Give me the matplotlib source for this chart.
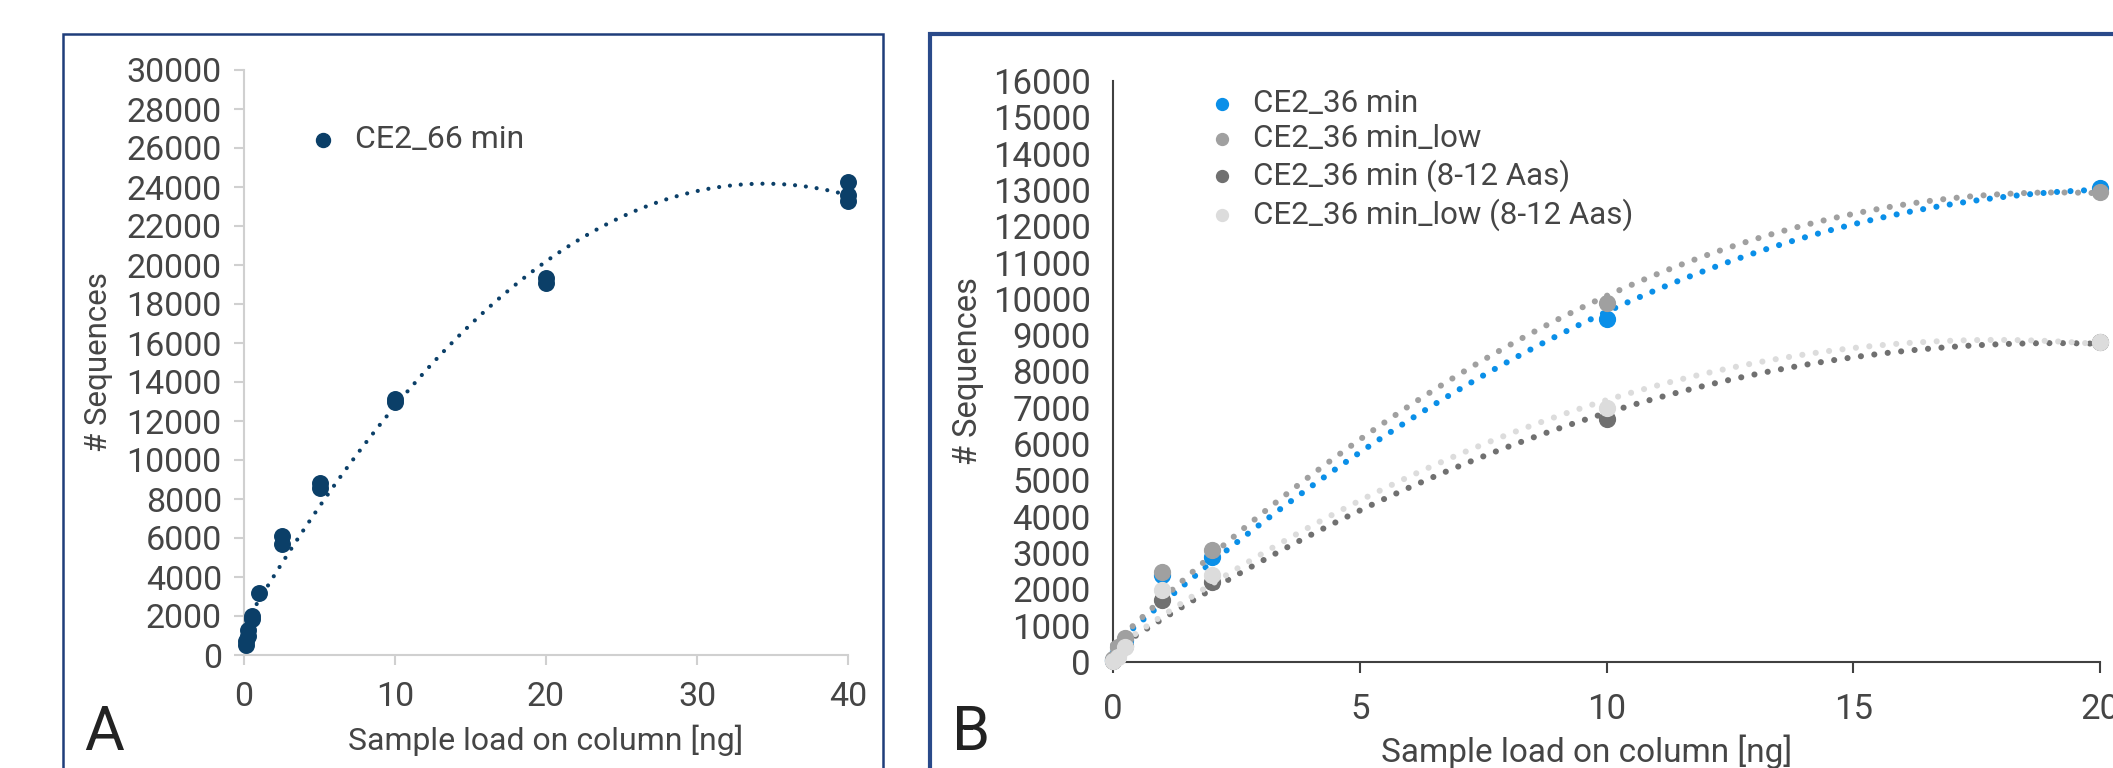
import numpy as np
import matplotlib.pyplot as plt
from matplotlib.patches import Rectangle

plt.rcParams['font.family'] = ['Roboto', 'DejaVu Sans']

# ---- panel A data ----
a_x = [0.1, 0.1, 0.25, 0.25, 0.5, 0.5, 1, 2.5, 2.5, 5, 5, 10, 10, 20, 20, 40, 40, 40]
a_y = [500, 700, 1000, 1300, 1850, 2000, 3200, 5700, 6100, 8550, 8800, 13000, 13150,
       19100, 19350, 23300, 23600, 24250]
a_label = "CE2_66 min"

# ---- panel B data ----
b_x = [0, 0.1, 0.25, 1, 2, 10, 20]
b_labels = ["CE2_36 min", "CE2_36 min_low", "CE2_36 min (8-12 Aas)", "CE2_36 min_low (8-12 Aas)"]
b_blue = [50, 300, 600, 2400, 2900, 9450, 13050]
b_grey = [80, 400, 650, 2480, 3080, 9900, 12950]
b_dark = [30, 200, 450, 1700, 2200, 6700, 8800]
b_light = [20, 150, 400, 1980, 2400, 7000, 8800]
b_colors = ["#0a8fe8", "#a0a0a0", "#707070", "#dcdcdc"]

txt = "#454545"
W, H = 2113, 768
fig = plt.figure(figsize=(W / 100, H / 100), dpi=100)

# panel frames
fig.patches.append(Rectangle((63 / W, -0.1), (883 - 63) / W, 1.1 - 34 / H,
                             transform=fig.transFigure, fill=False, ec="#1f3d7a", lw=1.8))
fig.patches.append(Rectangle((930 / W, -0.1), 1.0, 1.1 - 34 / H,
                             transform=fig.transFigure, fill=False, ec="#2a4a8a", lw=3))

# ---------------- panel A ----------------
axA = fig.add_axes([244 / W, 113 / H, (848 - 244) / W, (655 - 70) / H])
axA.scatter(a_x, a_y, s=125, color="#0b3f68", zorder=3, clip_on=False, label=a_label)
ca = np.polyfit(a_x, a_y, 2)
xx = np.linspace(min(a_x), max(a_x), 300)
axA.plot(xx, np.polyval(ca, xx), ls=(0, (0.01, 2.6)), lw=3.0, color="#0b3f68",
         dash_capstyle="round", zorder=2)
axA.set_xlim(0, 40)
axA.set_ylim(0, 30000)
axA.set_xticks([0, 10, 20, 30, 40])
axA.set_yticks(range(0, 30001, 2000))
for s in ["top", "right"]:
    axA.spines[s].set_visible(False)
for s in ["left", "bottom"]:
    axA.spines[s].set_color("#d0d0d0")
    axA.spines[s].set_linewidth(1.5)
axA.tick_params(color="#d0d0d0", length=7, width=1.5)
axA.tick_params(labelcolor=txt, labelsize=24.5)
axA.tick_params(axis="y", pad=9)
axA.tick_params(axis="x", pad=12)
axA.set_ylabel("# Sequences", fontsize=22.5, color=txt, labelpad=10)
axA.set_xlabel("Sample load on column [ng]", fontsize=23, color=txt, labelpad=8)
axA.legend(loc="upper left", bbox_to_anchor=(0.03, 0.955), frameon=False, fontsize=23,
           handletextpad=0.0, markerscale=0.9, labelcolor=txt)
fig.text(84 / W, 0.024, "A", fontsize=44, color="#222222", va="baseline")

# ---------------- panel B ----------------
axB = fig.add_axes([1113 / W, 106 / H, (2100 - 1113) / W, (662 - 81) / H])
for ys, c, lab, z in zip([b_blue, b_grey, b_dark, b_light], b_colors, b_labels, [4, 5, 3, 6]):
    cb = np.polyfit(b_x, ys, 2)
    xb = np.linspace(min(b_x), max(b_x), 300)
    axB.plot(xb, np.polyval(cb, xb), ls=(0, (0.01, 2.2)), lw=4.4, color=c,
             dash_capstyle="round", zorder=z - 2, clip_on=False)
    axB.scatter(b_x, ys, s=130, color=c, zorder=z, clip_on=False, label=lab)
axB.set_xlim(0, 20)
axB.set_ylim(0, 16000)
axB.set_xticks([0, 5, 10, 15, 20])
axB.set_yticks(range(0, 16001, 1000))
for s in ["top", "right"]:
    axB.spines[s].set_visible(False)
for s in ["left", "bottom"]:
    axB.spines[s].set_color("#404040")
    axB.spines[s].set_linewidth(1.5)
axB.tick_params(axis="y", length=0, pad=16)
axB.tick_params(axis="x", length=8, width=1.5, pad=14, color="#404040")
axB.tick_params(labelcolor=txt, labelsize=25)
axB.set_ylabel("# Sequences", fontsize=23.5, color=txt, labelpad=6)
axB.set_xlabel("Sample load on column [ng]", fontsize=24, color=txt)
axB.xaxis.set_label_coords(0.48, -0.125)
axB.legend(loc="upper left", bbox_to_anchor=(0.05, 1.035), frameon=False, fontsize=22.5,
           handletextpad=0.0, markerscale=0.75, labelspacing=0.2, labelcolor=txt)
fig.text(952 / W, 0.024, "B", fontsize=44, color="#222222", va="baseline")

fig.savefig("out.png", dpi=100)
